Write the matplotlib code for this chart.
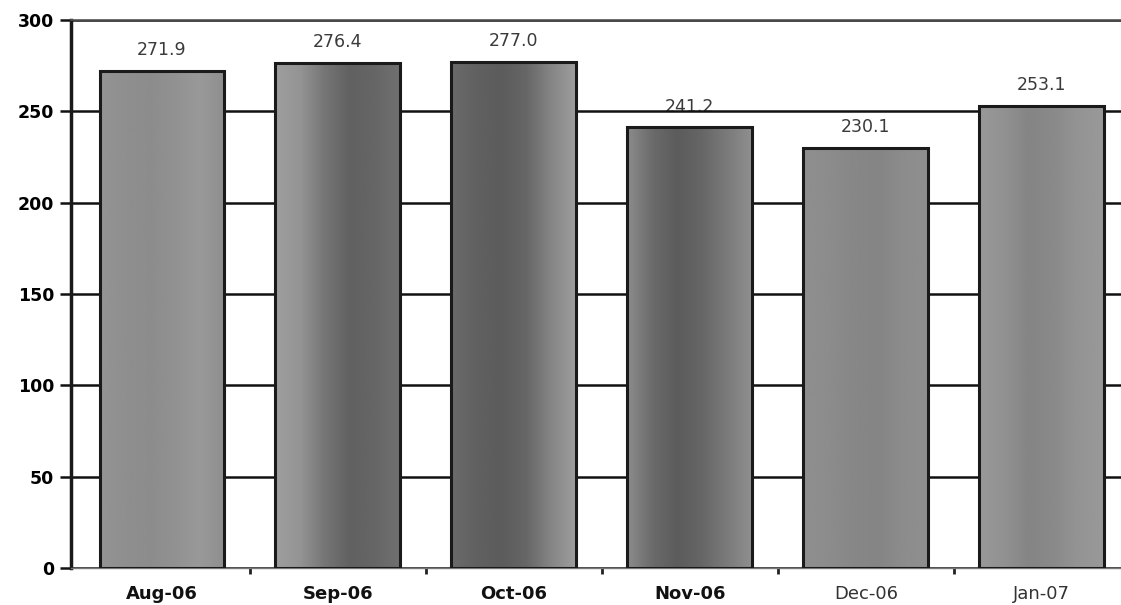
import numpy as np
import matplotlib
matplotlib.use("Agg")
import matplotlib.pyplot as plt
from matplotlib.colors import LinearSegmentedColormap

# Monthly values
months = ["Aug-06", "Sep-06", "Oct-06", "Nov-06", "Dec-06", "Jan-07"]
values = [271.9, 276.4, 277.0, 241.2, 230.1, 253.1]
value_labels = ["271.9", "276.4", "277.0", "241.2", "230.1", "253.1"]
bold_month = [True, True, True, True, False, False]
yticks = [0, 50, 100, 150, 200, 250, 300]

# Horizontal grey shading across each bar (left -> right grey levels)
shading = [
    [0.58, 0.56, 0.55, 0.57, 0.60, 0.56],
    [0.62, 0.58, 0.46, 0.38, 0.40, 0.44],
    [0.42, 0.38, 0.36, 0.40, 0.52, 0.62],
    [0.55, 0.42, 0.36, 0.40, 0.48, 0.56],
    [0.56, 0.55, 0.53, 0.52, 0.55, 0.56],
    [0.60, 0.57, 0.52, 0.54, 0.58, 0.60],
]

fig = plt.figure(figsize=(11.21, 6.05), dpi=100)
ax = fig.add_axes([71 / 1121, 37 / 605, 1 - 71 / 1121, 548 / 605])

x = np.arange(len(months))
bar_w = 0.71
bars = ax.bar(x, values, width=bar_w, color="none", edgecolor="#1a1a1a",
              linewidth=2.2, zorder=3)

cmap = LinearSegmentedColormap.from_list("greys_lin", ["black", "white"])
for b, prof in zip(bars, shading):
    row = np.interp(np.linspace(0, len(prof) - 1, 200), np.arange(len(prof)), prof)
    im = ax.imshow(row[None, :], cmap=cmap, vmin=0, vmax=1, aspect="auto",
                   extent=[b.get_x(), b.get_x() + b.get_width(), 0, b.get_height()],
                   interpolation="bicubic", zorder=2)
    im.set_clip_path(b)

for xi, v, lab in zip(x, values, value_labels):
    ax.annotate(lab, (xi, v), xytext=(0, 15), textcoords="offset points",
                ha="center", va="center", fontsize=12.5, color="#3a3a3a",
                family="DejaVu Sans", zorder=0.5)

ax.set_xlim(-0.517, 5.45)
ax.set_ylim(0, 300)
ax.set_yticks(yticks)
ax.set_yticklabels([str(t) for t in yticks], fontsize=12.5, fontweight="bold",
                   family="DejaVu Sans")
ax.yaxis.grid(True, color="#111111", linewidth=1.8)
ax.set_axisbelow(True)

ax.set_xticks(x)
ax.set_xticklabels(months)
for lab, bold in zip(ax.get_xticklabels(), bold_month):
    lab.set_fontsize(13)
    lab.set_family("DejaVu Sans")
    lab.set_fontweight("bold" if bold else "normal")
    lab.set_color("#111111" if bold else "#333333")
ax.tick_params(axis="x", length=0, pad=12)
ax.set_xticks(np.arange(len(months) - 1) + 0.5, minor=True)
ax.tick_params(axis="x", which="minor", length=4, width=2, color="#222222")
ax.tick_params(axis="y", length=8, width=1.8, color="#111111", pad=4)

ax.spines["left"].set_linewidth(2.5)
ax.spines["left"].set_color("#1a1a1a")
ax.spines["bottom"].set_linewidth(1.0)
ax.spines["bottom"].set_color("#777777")
ax.spines["right"].set_visible(False)
ax.spines["top"].set_linewidth(1.2)
ax.spines["top"].set_color("#555555")

fig.savefig("out.png", dpi=100)
